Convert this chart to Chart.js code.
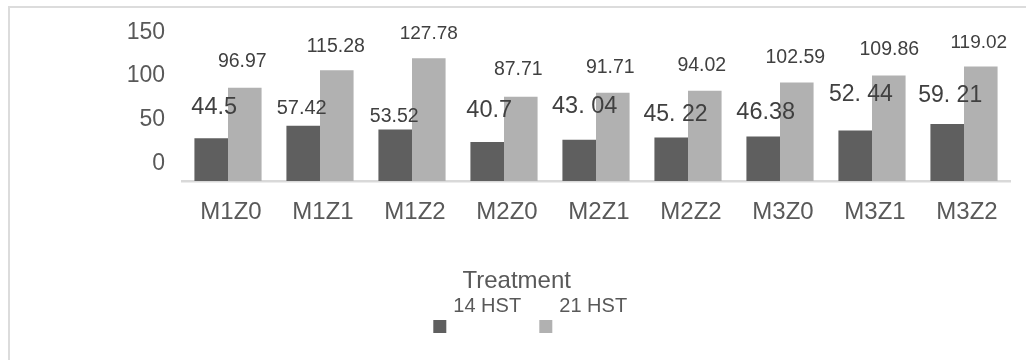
<!DOCTYPE html>
<html lang="en">
<head>
  <meta charset="UTF-8">
  <title>Treatment HST Chart</title>
  <script src="https://cdn.jsdelivr.net/npm/chart.js"></script>
  <style>
    html, body {
      margin: 0;
      padding: 0;
      background: #fff;
      overflow: hidden;
    }
    #frame {
      position: absolute;
      left: 8px;
      top: 6px;
      width: 1100px;
      height: 420px;
      border-left: 2.5px solid #dcdcdc;
      border-top: 2.5px solid #dcdcdc;
    }
    #hstChart {
      position: absolute;
      left: 0;
      top: 0;
    }
  </style>
</head>
<body>
  <div id="frame"></div>
  <canvas id="hstChart" width="1026" height="360"></canvas>

  <script>
    const treatments = ['M1Z0', 'M1Z1', 'M1Z2', 'M2Z0', 'M2Z1', 'M2Z2', 'M3Z0', 'M3Z1', 'M3Z2'];
    const hst14 = [44.5, 57.42, 53.52, 40.7, 43.04, 45.22, 46.38, 52.44, 59.21];
    const hst21 = [96.97, 115.28, 127.78, 87.71, 91.71, 94.02, 102.59, 109.86, 119.02];
    const hst14Text = ['44.5', '57.42', '53.52', '40.7', '43. 04', '45. 22', '46.38', '52. 44', '59. 21'];
    const hst21Text = ['96.97', '115.28', '127.78', '87.71', '91.71', '94.02', '102.59', '109.86', '119.02'];
    const yTickValues = [0, 50, 100, 150];

    const FONT = '"Liberation Sans", Arial, sans-serif';

    // value labels are scattered a bit in the original, so each one gets its own nudge
    const labelStyles = [
      {
        text: hst14Text,
        dx: [3, -1.5, -1, 2, 5.5, 4.3, 2.5, 5.7, 3],
        dy: [-32.7, -19, -14.3, -33, -34.7, -24.4, -26, -37.7, -30.3],
        size: [23.5, 20, 19.5, 23.5, 23.5, 23, 23.5, 23, 23]
      },
      {
        text: hst21Text,
        dx: [-2.5, -1, 0, -2.5, -2.5, -3, -1.5, 0.5, -2],
        dy: [-27.5, -24.7, -26.3, -28.3, -27, -26.5, -26, -27.5, -25.3],
        size: [19.5, 19.5, 19, 19.5, 19.5, 19.5, 19.5, 19.5, 19]
      }
    ];

    const barText = {
      id: 'barText',
      afterDatasetsDraw(chart, args, opts) {
        const ctx = chart.ctx;
        chart.data.datasets.forEach((ds, di) => {
          const st = opts.styles[di];
          chart.getDatasetMeta(di).data.forEach((bar, i) => {
            ctx.save();
            ctx.font = st.size[i] + 'px ' + FONT;
            ctx.fillStyle = opts.color;
            ctx.textAlign = 'center';
            ctx.textBaseline = 'alphabetic';
            ctx.fillText(st.text[i], bar.x + st.dx[i], bar.y + st.dy[i] + st.size[i] * 0.358);
            ctx.restore();
          });
        });
      }
    };

    const treatmentLegend = {
      id: 'treatmentLegend',
      afterDraw(chart, args, o) {
        const ctx = chart.ctx;
        ctx.save();
        ctx.fillStyle = o.color;
        ctx.textBaseline = 'alphabetic';
        ctx.textAlign = 'center';
        ctx.font = o.titleSize + 'px ' + FONT;
        ctx.fillText(o.title, o.titleX, o.titleY);
        ctx.textAlign = 'left';
        ctx.font = o.itemSize + 'px ' + FONT;
        chart.data.datasets.forEach((ds, i) => {
          const x = o.x + i * o.step;
          ctx.fillStyle = ds.backgroundColor;
          ctx.fillRect(x, o.boxY, o.box, o.box);
          ctx.fillStyle = o.color;
          ctx.fillText(ds.label, x + o.textDx, o.textY);
        });
        ctx.restore();
      }
    };

    // keep the axes from pushing the plot area around
    function noPad(s) {
      s.paddingTop = 0;
      s.paddingBottom = 0;
      s.paddingLeft = 0;
      s.paddingRight = 0;
    }

    const ctx = document.getElementById('hstChart').getContext('2d');
    new Chart(ctx, {
      type: 'bar',
      data: {
        labels: treatments,
        datasets: [
          {
            label: '14 HST',
            data: hst14,
            backgroundColor: '#5f5f5f',
            categoryPercentage: 0.73,
            barPercentage: 1
          },
          {
            label: '21 HST',
            data: hst21,
            backgroundColor: '#b1b1b1',
            categoryPercentage: 0.73,
            barPercentage: 1
          }
        ]
      },
      options: {
        responsive: false,
        animation: false,
        layout: { padding: { top: 20, right: 16, left: 0, bottom: 0 } },
        plugins: {
          legend: { display: false },
          tooltip: { enabled: false },
          barText: { styles: labelStyles, color: '#404040' },
          treatmentLegend: {
            title: 'Treatment',
            titleX: 516.7, titleY: 288, titleSize: 24,
            x: 433.3, step: 106, box: 13, boxY: 320,
            textDx: 20, textY: 311.5, itemSize: 20,
            color: '#595959'
          }
        },
        scales: {
          x: {
            grid: { display: false },
            border: { display: true, color: '#d9d9d9', width: 2.5 },
            ticks: {
              color: '#595959',
              font: { family: FONT, size: 24 },
              padding: 9,
              labelOffset: 3,
              maxRotation: 0
            },
            afterFit: s => { noPad(s); s.height = 179; }
          },
          y: { display: false, min: 0, max: 167.5 },
          yTicks: {
            position: 'left',
            min: -20.25,
            max: 164,
            grid: { display: false },
            border: { display: false },
            ticks: {
              color: '#595959',
              font: { family: FONT, size: 23 },
              padding: 9
            },
            afterBuildTicks: s => { s.ticks = yTickValues.map(v => ({ value: v })); },
            afterFit: s => { noPad(s); s.width = 182; }
          }
        }
      },
      plugins: [barText, treatmentLegend]
    });
  </script>
</body>
</html>
